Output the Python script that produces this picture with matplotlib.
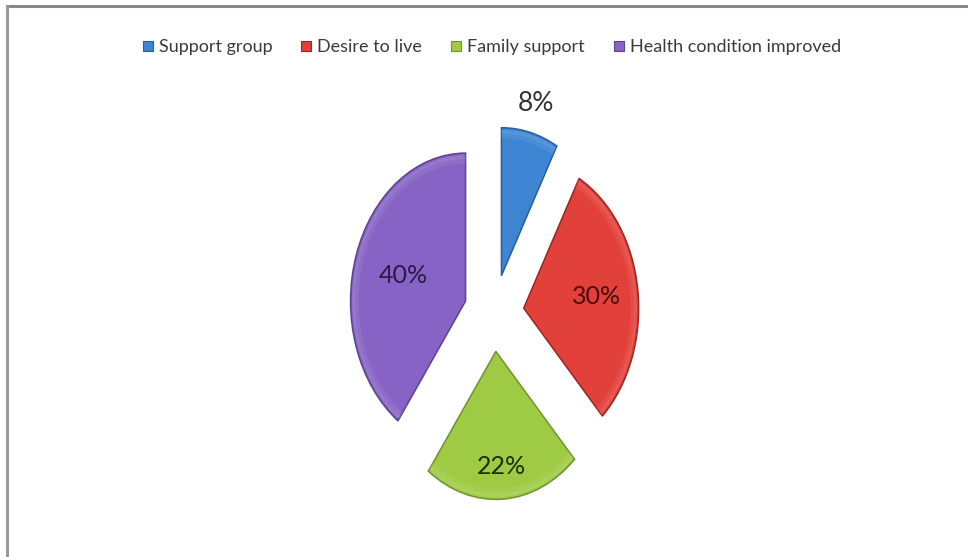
import matplotlib
matplotlib.use('Agg')
import matplotlib.pyplot as plt
from matplotlib.lines import Line2D
import numpy as np

# ─── Data ──────────────────────────────────────────────────────
categories = ['Support group', 'Desire to live', 'Family support', 'Health condition improved']
shares = [8, 30, 22, 40]
labels = [f'{v}%' for v in shares]

# ─── Style ─────────────────────────────────────────────────────
FACE  = ['#3D85D3', '#E2403A', '#9FCB44', '#8663C4']
EDGE  = ['#2A5E9A', '#9E2622', '#6F9330', '#5C4390']
TEXT  = ['#333333', '#4A0B0A', '#1E2C0A', '#2A1A48']
LABEL_R = [1.20, 0.64, 0.78, 0.57]     # radial offset of each percentage label
LABEL_FS = [19, 18, 18, 18]
EXPLODE = 0.26

W, H, DPI = 968, 557, 100
CX, CY = 494, 313          # pie centre, pixels from top-left
RX, RY = 115, 148          # on-screen radii (ellipse, taller than wide)

plt.rcParams['font.family'] = ['Lato', 'DejaVu Sans']

fig = plt.figure(figsize=(W / DPI, H / DPI), dpi=DPI)
fig.patch.set_facecolor('white')
ax = fig.add_axes([0, 0, 1, 1])

wedges, _ = ax.pie(shares, startangle=90, counterclock=False,
                   explode=[EXPLODE] * len(shares), colors=FACE,
                   wedgeprops=dict(linewidth=1.1))
for w, ec in zip(wedges, EDGE):
    w.set_edgecolor(ec)

# faint bevel highlight along each outer arc
for w in wedges:
    cx, cy = w.center
    t = np.deg2rad(np.linspace(w.theta1, w.theta2, 60))
    for r_in, a in [(0.93, 0.07), (0.96, 0.07)]:
        ax.fill(np.r_[cx + 0.985 * np.cos(t), cx + r_in * np.cos(t[::-1])],
                np.r_[cy + 0.985 * np.sin(t), cy + r_in * np.sin(t[::-1])],
                color='white', alpha=a, lw=0, zorder=3)

# percentage labels
for w, txt, r, tc, fs in zip(wedges, labels, LABEL_R, TEXT, LABEL_FS):
    mid = np.deg2rad((w.theta1 + w.theta2) / 2)
    cx, cy = w.center
    ax.text(cx + r * np.cos(mid), cy + r * np.sin(mid), txt,
            ha='center', va='center', fontsize=fs, color=tc, zorder=5)

# stretch unit circle into the on-screen ellipse
ax.set_aspect('auto')
ax.set_xlim(-CX / RX, (W - CX) / RX)
ax.set_ylim(-(H - CY) / RY, CY / RY)
ax.axis('off')

# ─── Legend ────────────────────────────────────────────────────
handles = [Line2D([], [], marker='s', ls='none', markersize=7,
                  markerfacecolor=c, markeredgecolor=e, markeredgewidth=0.8)
           for c, e in zip(FACE, EDGE)]
fig.legend(handles, categories, loc='center', bbox_to_anchor=(0.508, 0.915),
           ncol=4, frameon=False, fontsize=13, handlelength=0.6,
           handletextpad=0.3, columnspacing=1.6, labelcolor='#3A3A3A')

# ─── Frame lines (top and left) ────────────────────────────────
fig.add_artist(Line2D([7 / W, 1], [1 - 5.5 / H] * 2, color='#8A8A8A', lw=2.2,
                      transform=fig.transFigure))
fig.add_artist(Line2D([7 / W] * 2, [0, 1 - 5.5 / H], color='#9A9A9A', lw=2.2,
                      transform=fig.transFigure))

fig.savefig('out.png', dpi=DPI, facecolor='white')
